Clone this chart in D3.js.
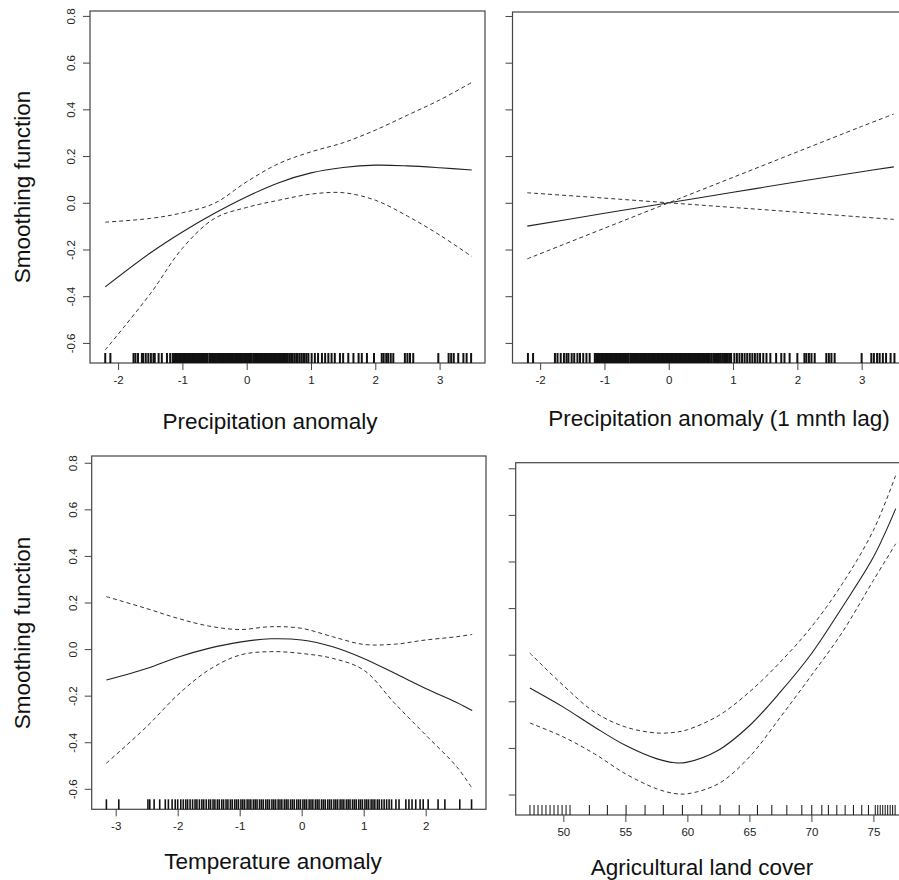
<!DOCTYPE html>
<html lang="en"><head>
<meta charset="utf-8">
<title>Smoothing functions</title>
<script type="text/javascript" src="https://cdn.jsdelivr.net/npm/d3@7/dist/d3.min.js"></script>
<style type="text/css">
body { margin: 0; background: #fff; }
text { font-family: "Liberation Sans", Arial, sans-serif; }
</style>
</head>
<body>
<script type="text/javascript">

var width = 899;
var height = 880;

// panel 1: precipitation anomaly
var precipX     = [-2.2, -1.5, -1, -0.5, 0, 0.5, 1, 1.5, 2, 2.5, 3, 3.5];
var precipFit   = [-0.36, -0.215, -0.125, -0.045, 0.026, 0.086, 0.128, 0.151, 0.161, 0.158, 0.15, 0.14];
var precipUpper = [-0.083, -0.067, -0.043, -0.002, 0.09, 0.168, 0.218, 0.257, 0.311, 0.375, 0.44, 0.515];
var precipLower = [-0.63, -0.39, -0.195, -0.067, -0.02, 0.011, 0.037, 0.043, 0.011, -0.057, -0.138, -0.23];
var precipRug = [-2.2,-2.12,-1.76,-1.73,-1.69,-1.63,-1.61,-1.57,-1.53,-1.49,-1.45,-1.43,-1.37,-1.32,-1.24,-1.19,
  -1.15,-1.13,-1.11,-1.09,-1.07,-1.05,-1.03,-1.01,-0.99,-0.97,-0.95,-0.93,-0.91,-0.89,-0.87,-0.85,-0.83,-0.81,-0.79,-0.77,
  -0.75,-0.73,-0.71,-0.69,-0.67,-0.65,-0.63,-0.61,-0.58,-0.56,-0.54,-0.52,-0.5,-0.48,-0.46,-0.44,-0.42,-0.4,-0.38,-0.36,
  -0.34,-0.32,-0.3,-0.28,-0.26,-0.24,-0.22,-0.2,-0.18,-0.16,-0.14,-0.12,-0.1,-0.08,-0.06,-0.04,-0.02,0.0,0.02,0.04,0.06,
  0.08,0.11,0.13,0.15,0.17,0.19,0.21,0.23,0.25,0.27,0.29,0.31,0.33,0.35,0.37,0.39,0.41,0.43,0.45,0.47,0.49,0.51,0.53,
  0.55,0.57,0.59,0.61,0.63,0.66,0.69,0.71,0.74,0.77,0.79,0.82,0.85,0.88,0.9,0.93,0.96,1.01,1.06,1.11,1.17,1.22,1.27,
  1.32,1.37,1.45,1.5,1.58,1.66,1.74,1.79,1.87,1.98,2.1,2.13,2.17,2.2,2.24,2.28,2.46,2.5,2.54,2.59,2.98,3.14,3.18,3.22,
  3.29,3.37,3.42,3.49];

// panel 2: precipitation anomaly, 1 month lag
var lagX     = [-2.2, -1, 0, 1, 2, 3, 3.5];
var lagFit   = [-0.1, -0.045, 0, 0.045, 0.09, 0.133, 0.154];
var lagBandA = [0.043, 0.02, 0, -0.02, -0.04, -0.061, -0.071];
var lagBandB = [-0.24, -0.109, 0, 0.109, 0.218, 0.327, 0.38];
var lagRug = [-2.19,-2.11,-1.77,-1.73,-1.68,-1.63,-1.59,-1.56,-1.51,-1.47,-1.42,-1.38,-1.33,-1.28,-1.23,
  -1.15,-1.13,-1.11,-1.09,-1.07,-1.05,-1.03,-1.01,-0.99,-0.97,-0.95,-0.93,-0.91,-0.89,-0.87,-0.85,-0.83,-0.81,-0.79,-0.77,
  -0.75,-0.73,-0.71,-0.69,-0.67,-0.65,-0.63,-0.6,-0.58,-0.56,-0.54,-0.52,-0.5,-0.48,-0.46,-0.44,-0.42,-0.4,-0.38,-0.36,
  -0.34,-0.32,-0.3,-0.28,-0.26,-0.24,-0.22,-0.2,-0.18,-0.16,-0.14,-0.12,-0.1,-0.08,-0.06,-0.04,-0.02,0.0,0.02,0.04,0.06,
  0.08,0.1,0.12,0.14,0.16,0.18,0.2,0.22,0.24,0.26,0.28,0.3,0.32,0.34,0.36,0.38,0.4,0.42,0.44,0.46,0.48,0.5,0.52,
  0.54,0.56,0.58,0.6,0.62,0.64,0.67,0.7,0.72,0.75,0.78,0.8,0.83,0.86,0.89,0.92,0.95,0.97,1.02,1.06,1.1,1.14,1.18,1.22,
  1.26,1.3,1.34,1.38,1.42,1.47,1.52,1.58,1.67,1.75,1.8,1.88,2.0,2.11,2.14,2.18,2.22,2.27,2.45,2.49,2.53,2.58,3.0,3.15,
  3.19,3.24,3.28,3.33,3.38,3.45,3.51];

// panel 3: temperature anomaly
var tempX     = [-3.15, -2.5, -2, -1.5, -1, -0.5, 0, 0.5, 1, 1.5, 2, 2.5, 2.75];
var tempFit   = [-0.133, -0.083, -0.035, 0.003, 0.03, 0.044, 0.039, 0.01, -0.04, -0.104, -0.169, -0.229, -0.264];
var tempUpper = [0.225, 0.174, 0.132, 0.099, 0.084, 0.096, 0.089, 0.053, 0.02, 0.021, 0.039, 0.053, 0.063];
var tempLower = [-0.49, -0.333, -0.197, -0.09, -0.026, -0.011, -0.019, -0.04, -0.09, -0.233, -0.369, -0.505, -0.598];
var tempRug = [-3.15,-2.95,-2.48,-2.45,-2.38,-2.29,-2.2,-2.15,-2.09,-2.04,-2.0,
  -1.95,-1.91,-1.87,-1.84,-1.8,-1.76,-1.72,-1.69,-1.65,-1.61,-1.58,-1.54,-1.5,-1.47,-1.43,-1.4,-1.36,-1.33,-1.29,-1.26,
  -1.22,-1.19,-1.15,-1.12,-1.08,-1.05,-1.02,-0.98,-0.95,-0.92,-0.88,-0.85,-0.82,-0.78,-0.75,-0.72,-0.68,-0.65,-0.62,
  -0.58,-0.55,-0.52,-0.48,-0.45,-0.42,-0.38,-0.35,-0.32,-0.28,-0.25,-0.22,-0.18,-0.15,-0.12,-0.08,-0.05,-0.02,0.02,
  0.05,0.08,0.12,0.15,0.18,0.22,0.25,0.28,0.32,0.35,0.38,0.42,0.45,0.48,0.52,0.55,0.58,0.62,0.65,0.68,0.72,0.75,0.78,
  0.82,0.85,0.88,0.92,0.95,0.98,1.02,1.05,1.08,1.12,1.15,1.18,1.22,1.25,1.29,1.33,1.37,1.41,1.45,1.52,1.57,1.68,1.73,
  1.78,1.84,1.91,1.96,2.04,2.2,2.31,2.55,2.74];

// panel 4: agricultural land cover
var agriX     = [47.3, 50, 52.5, 55, 57.5, 59, 60, 62.5, 65, 67.5, 70, 72.5, 75, 76.8];
var agriFit   = [-0.143, -0.225, -0.31, -0.389, -0.446, -0.464, -0.461, -0.41, -0.305, -0.16, 0.004, 0.205, 0.419, 0.627];
var agriUpper = [0.007, -0.132, -0.246, -0.31, -0.336, -0.333, -0.322, -0.262, -0.16, -0.031, 0.119, 0.305, 0.534, 0.77];
var agriLower = [-0.293, -0.353, -0.425, -0.511, -0.575, -0.596, -0.597, -0.554, -0.439, -0.268, -0.089, 0.097, 0.319, 0.476];
var agriRug = [47.31,47.64,47.96,48.28,48.6,48.93,49.25,49.57,49.9,50.22,50.54,52.1,53.55,55.06,56.59,58.06,59.6,61.16,
  62.64,64.18,65.65,66.81,68.02,69.23,70.03,70.84,71.37,72.05,72.72,73.39,74.06,74.6,75.15,75.35,75.55,75.75,75.95,
  76.15,76.35,76.55,76.75];

var yTicks = [-0.6, -0.4, -0.2, 0.0, 0.2, 0.4, 0.6, 0.8];

var panels = [
  {x: precipX, fit: precipFit, up: precipUpper, lo: precipLower, rug: precipRug, rugW: 2,
   xdom: [-2.437, 3.706], xr: [90, 485], ydom: [-0.686, 0.821], yr: [363, 11],
   xticks: [-2, -1, 0, 1, 2, 3], ylabels: true, title: "Precipitation anomaly", tx: 270, ty: 421},
  {x: lagX, fit: lagFit, up: lagBandA, lo: lagBandB, rug: lagRug, rugW: 2,
   xdom: [-2.43, 3.71], xr: [512.5, 907.3], ydom: [-0.686, 0.817], yr: [363, 12],
   xticks: [-2, -1, 0, 1, 2, 3], ylabels: false, title: "Precipitation anomaly (1 mnth lag)", tx: 719, ty: 418},
  {x: tempX, fit: tempFit, up: tempUpper, lo: tempLower, rug: tempRug, rugW: 1.6,
   xdom: [-3.387, 2.973], xr: [91.7, 486], ydom: [-0.688, 0.829], yr: [809.3, 456],
   xticks: [-3, -2, -1, 0, 1, 2], ylabels: true, title: "Temperature anomaly", tx: 273, ty: 861},
  {x: agriX, fit: agriFit, up: agriUpper, lo: agriLower, rug: agriRug, rugW: 1,
   xdom: [46.16, 77.95], xr: [515.7, 910], ydom: [-0.688, 0.824], yr: [815, 462.7],
   xticks: [50, 55, 60, 65, 70, 75], ylabels: false, title: "Agricultural land cover", tx: 702, ty: 867}
];

// R style labels: plain hyphen for minus
var fmtX = d => String(d);
var fmtY = d => d3.format(".1f")(d).replace("\u2212", "-");

var svg = d3.select("body").append("svg").attr("width", width).attr("height", height);

panels.forEach(function(p) {
  var xS = d3.scaleLinear().domain(p.xdom).range(p.xr);
  var yS = d3.scaleLinear().domain(p.ydom).range(p.yr);
  var g = svg.append("g");

  g.append("rect").attr("x", p.xr[0]).attr("y", p.yr[1])
    .attr("width", p.xr[1] - p.xr[0]).attr("height", p.yr[0] - p.yr[1])
    .attr("fill", "none").attr("stroke", "#444").attr("stroke-width", 1.2);

  var gx = g.append("g").attr("transform", "translate(0," + p.yr[0] + ")")
    .call(d3.axisBottom(xS).tickValues(p.xticks).tickSize(7).tickPadding(6).tickFormat(fmtX));
  gx.select(".domain").remove();
  gx.selectAll("line").attr("stroke", "#444");
  gx.selectAll("text").attr("font-size", "11.5px").attr("fill", "#222");

  var gy = g.append("g").attr("transform", "translate(" + p.xr[0] + ",0)")
    .call(d3.axisLeft(yS).tickValues(yTicks).tickSize(7).tickFormat(fmtY));
  gy.select(".domain").remove();
  gy.selectAll("line").attr("stroke", "#444");
  if (p.ylabels) {
    gy.selectAll("text").attr("x", 0).attr("y", 0).attr("dy", "0.35em")
      .attr("text-anchor", "middle").attr("transform", "translate(-19,0) rotate(-90)")
      .attr("font-size", "11.5px").attr("fill", "#222");
  } else {
    gy.selectAll("text").remove();
  }

  g.selectAll(".rug").data(p.rug).enter().append("line")
    .attr("x1", d => xS(d)).attr("x2", d => xS(d))
    .attr("y1", p.yr[0]).attr("y2", p.yr[0] - 10)
    .attr("stroke", "#111").attr("stroke-width", p.rugW);

  var line = function(ys) {
    return d3.line().x((d, i) => xS(p.x[i])).y(d => yS(d)).curve(d3.curveCatmullRom.alpha(0.5))(ys);
  };
  g.append("path").attr("d", line(p.fit)).attr("fill", "none").attr("stroke", "#222").attr("stroke-width", 1.1);
  g.append("path").attr("d", line(p.up)).attr("fill", "none").attr("stroke", "#333").attr("stroke-width", 1).attr("stroke-dasharray", "4,3");
  g.append("path").attr("d", line(p.lo)).attr("fill", "none").attr("stroke", "#333").attr("stroke-width", 1).attr("stroke-dasharray", "4,3");

  svg.append("text").attr("x", p.tx).attr("y", p.ty).attr("dy", "0.35em")
    .attr("text-anchor", "middle").attr("font-size", "22.5px").attr("fill", "#111").text(p.title);
});

svg.append("text").attr("transform", "translate(22,187) rotate(-90)").attr("dy", "0.35em")
  .attr("text-anchor", "middle").attr("font-size", "22.5px").attr("fill", "#111").text("Smoothing function");
svg.append("text").attr("transform", "translate(22,633) rotate(-90)").attr("dy", "0.35em")
  .attr("text-anchor", "middle").attr("font-size", "22.5px").attr("fill", "#111").text("Smoothing function");

</script>
</body>
</html>
